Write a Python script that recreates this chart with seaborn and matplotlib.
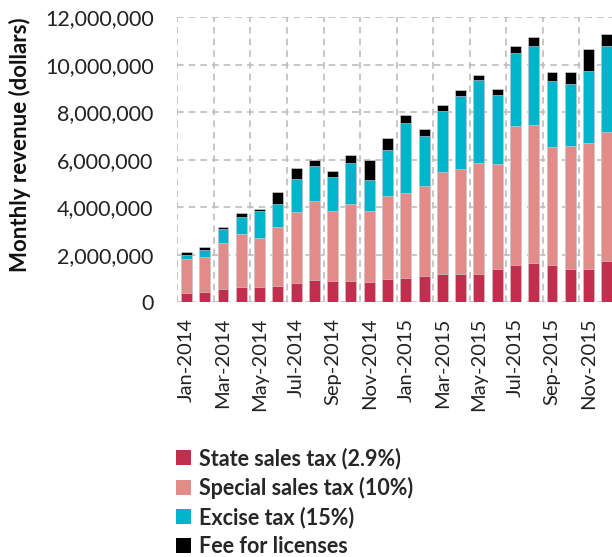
import numpy as np
import pandas as pd
import matplotlib
matplotlib.use("Agg")
import matplotlib.pyplot as plt
import matplotlib.ticker as mticker
from matplotlib.patches import Patch
import seaborn as sns

months = ["Jan-2014", "Feb-2014", "Mar-2014", "Apr-2014", "May-2014", "Jun-2014",
          "Jul-2014", "Aug-2014", "Sep-2014", "Oct-2014", "Nov-2014", "Dec-2014",
          "Jan-2015", "Feb-2015", "Mar-2015", "Apr-2015", "May-2015", "Jun-2015",
          "Jul-2015", "Aug-2015", "Sep-2015", "Oct-2015", "Nov-2015", "Dec-2015"]

# values in thousands of dollars
state_tax = [393, 449, 575, 660, 660, 702, 828, 954, 884, 884, 870, 982,
             1039, 1109, 1207, 1179, 1207, 1418, 1586, 1670, 1586, 1389, 1418, 1740]
special_tax = [1432, 1446, 1909, 2203, 2063, 2470, 2961, 3313, 2962, 3256, 2962, 3481,
               3550, 3803, 4281, 4421, 4660, 4392, 5839, 5797, 4954, 5207, 5291, 5446]
excise_tax = [168, 323, 590, 730, 1137, 982, 1404, 1473, 1431, 1713, 1333, 1951,
              2948, 2106, 2568, 3074, 3494, 2920, 3059, 3326, 2793, 2597, 3045, 3607]
license_fee = [112, 98, 112, 154, 70, 492, 449, 239, 253, 365, 814, 519,
               351, 294, 253, 266, 197, 266, 323, 393, 379, 519, 899, 491]

labels = ["State sales tax (2.9%)", "Special sales tax (10%)",
          "Excise tax (15%)", "Fee for licenses"]
colors = ["#C22F4E", "#E28B88", "#00B4CB", "#000000"]

df = pd.DataFrame({"month": months,
                   "state": np.array(state_tax) * 1000,
                   "special": np.array(special_tax) * 1000,
                   "excise": np.array(excise_tax) * 1000,
                   "fee": np.array(license_fee) * 1000})
df["c1"] = df["state"]
df["c2"] = df["c1"] + df["special"]
df["c3"] = df["c2"] + df["excise"]
df["c4"] = df["c3"] + df["fee"]

sns.set_theme(style="white")
plt.rcParams["font.family"] = ["Lato", "DejaVu Sans"]

fig = plt.figure(figsize=(6.12, 5.57), dpi=100)
ax = fig.add_axes([0.2897, 0.4573, 0.7168, 0.5116])

# draw tallest stack first, then overlay the lower parts
for col, c in zip(["c4", "c3", "c2", "c1"], colors[::-1]):
    sns.barplot(data=df, x="month", y=col, color=c, width=0.6, ax=ax,
                edgecolor="#dddddd", linewidth=0.4, saturation=1, zorder=3)

ax.set_ylim(0, 12000000)
ax.set_xlim(-0.5, 23.5)
ax.set_yticks(np.arange(0, 12000001, 2000000))
ax.yaxis.set_major_formatter(mticker.FuncFormatter(lambda v, p: f"{int(v):,}"))
ax.set_xticks(range(0, 24, 2))
ax.set_xticklabels(months[::2], rotation=90)
ax.set_xticks(np.arange(-0.5, 24, 2), minor=True)
ax.tick_params(axis="y", length=0, pad=17, labelsize=15.5, labelcolor="#222222")
ax.tick_params(axis="x", which="both", length=0, pad=11, labelsize=14.5, labelcolor="#222222")

ax.grid(axis="y", which="major", color="#BDBDBD", linestyle=(0, (4, 3)), linewidth=1.2, zorder=0)
ax.grid(axis="x", which="minor", color="#BDBDBD", linestyle=(0, (4, 3)), linewidth=1.2, zorder=0)
ax.grid(axis="x", which="major", visible=False)
for s in ax.spines.values():
    s.set_visible(False)
ax.set_xlabel("")
ax.set_ylabel("")

fig.text(0.032, 0.74, "Monthly revenue (dollars)", rotation=90, ha="center", va="center",
         fontsize=16, fontweight="bold", color="#111111")

handles = [Patch(facecolor=c, edgecolor="none") for c in colors]
fig.legend(handles, labels, loc="upper left", bbox_to_anchor=(0.274, 0.212),
           frameon=False, prop={"size": 15.5, "weight": "bold"},
           handlelength=0.7, handleheight=0.7, handletextpad=0.35,
           labelspacing=0.35, borderaxespad=0)

fig.savefig("out.png", dpi=100)
